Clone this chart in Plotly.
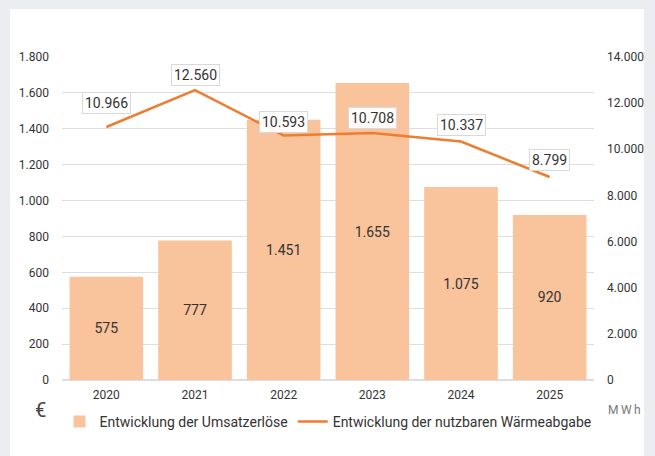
import plotly.graph_objects as go

years = ["2020", "2021", "2022", "2023", "2024", "2025"]
umsatz = [575, 777, 1451, 1655, 1075, 920]
waerme = [10966, 12560, 10593, 10708, 10337, 8799]
left_ticks = [0, 200, 400, 600, 800, 1000, 1200, 1400, 1600, 1800]
right_ticks = [0, 2000, 4000, 6000, 8000, 10000, 12000, 14000]

def de(v):
    return f"{v:,}".replace(",", ".")

fig = go.Figure()
fig.add_trace(go.Bar(
    x=years, y=umsatz, name="Entwicklung der Umsatzerlöse",
    marker=dict(color="#f9c39b", line=dict(width=0)),
    width=0.83,
    text=[de(v) for v in umsatz], textposition="inside",
    insidetextanchor="middle",
    textfont=dict(color="#333333", size=14, family="Roboto"),
    yaxis="y",
))
fig.add_trace(go.Scatter(
    x=years, y=waerme, name="Entwicklung der nutzbaren Wärmeabgabe",
    mode="lines", line=dict(color="#ed7d31", width=2.5),
    yaxis="y2",
))

shifts = [24, 15, 14, 15, 17, 17]
for i, (v, s) in enumerate(zip(waerme, shifts)):
    fig.add_annotation(
        x=i, y=v, xref="x", yref="y2", text=de(v), showarrow=False, yshift=s,
        font=dict(size=14, color="#333333", family="Roboto"),
        bgcolor="rgba(255,255,255,0.95)", bordercolor="#d9d9d9",
        borderwidth=1, borderpad=2,
    )

fig.add_shape(type="rect", xref="paper", yref="paper",
              x0=(10 - 62) / 532, x1=(644 - 62) / 532,
              y0=-0.3, y1=(380 - 9) / 323,
              fillcolor="white", line=dict(width=0), layer="below")

fig.add_annotation(xref="paper", yref="paper", x=(40 - 62) / 532, y=(380 - 410) / 323,
                   xanchor="center", yanchor="middle",
                   text="€", showarrow=False, font=dict(size=20, color="#444444", family="Roboto"))
fig.add_annotation(xref="paper", yref="paper", x=(624 - 62) / 532, y=(380 - 410) / 323,
                   xanchor="center", yanchor="middle",
                   text="M\u2009W\u2009h", showarrow=False,
                   font=dict(size=12, color="#777777", family="Roboto"))

fig.update_layout(
    width=655, height=456,
    margin=dict(l=62, r=61, t=57, b=76, autoexpand=False),
    paper_bgcolor="#ecedf0", plot_bgcolor="rgba(0,0,0,0)",
    separators=",.",
    font=dict(family="Roboto", size=12, color="#333333"),
    showlegend=True,
    legend=dict(orientation="h", x=0.5, xanchor="center", y=(380 - 422) / 323,
                yanchor="middle", font=dict(size=14, color="#333333"),
                itemwidth=30, bgcolor="rgba(0,0,0,0)"),
    xaxis=dict(type="category", range=[-0.5, 5.5], showgrid=False, showline=False,
               ticks="", tickfont=dict(size=12), ticklabelstandoff=6),
    yaxis=dict(range=[0, 1800], tickvals=left_ticks, tickformat=",d",
               gridcolor="#dedede", gridwidth=1, zeroline=True, zerolinecolor="#dedede",
               zerolinewidth=2, showline=False, ticks="", ticklabelstandoff=12),
    yaxis2=dict(range=[0, 14000], tickvals=right_ticks, tickformat=",d",
                overlaying="y", side="right", showgrid=False, zeroline=False,
                showline=False, ticks="", ticklabelstandoff=12),
)

fig.write_html("out.html", config={"displayModeBar": False},
               post_script="document.body.style.margin='0';document.body.style.overflow='hidden';")
